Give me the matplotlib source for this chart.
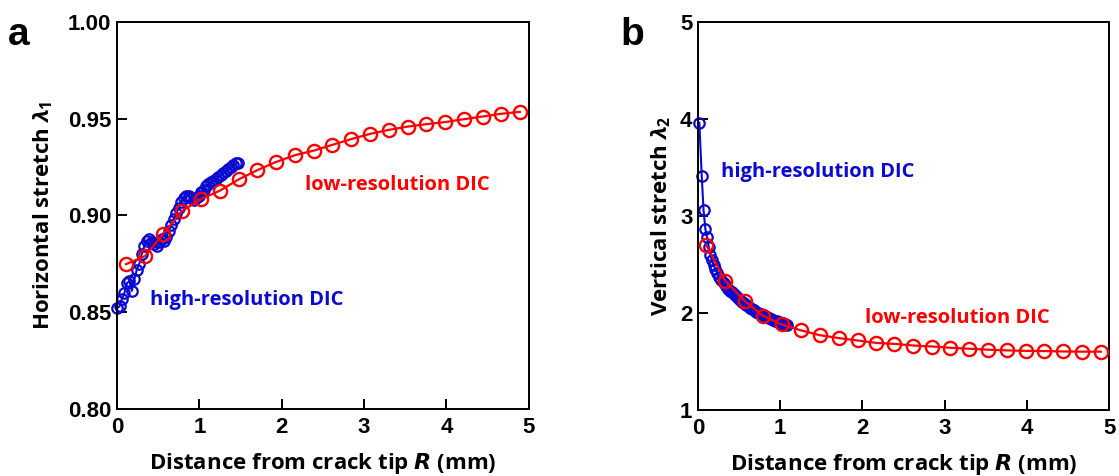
import matplotlib
matplotlib.use("Agg")
import matplotlib.pyplot as plt

# panel a: horizontal stretch
r_low_a = [0.11, 0.34, 0.56, 0.79, 1.02, 1.25, 1.48, 1.70, 1.93, 2.16, 2.39,
           2.61, 2.84, 3.07, 3.30, 3.53, 3.75, 3.98, 4.21, 4.44, 4.66, 4.89]
lam1_low = [0.8748, 0.8790, 0.8904, 0.9023, 0.9084, 0.9128, 0.9187, 0.9233,
            0.9276, 0.9311, 0.9335, 0.9364, 0.9394, 0.9421, 0.9442, 0.9459,
            0.9471, 0.9482, 0.9497, 0.9511, 0.9525, 0.9535]

r_high_a = [0.00, 0.03, 0.06, 0.09, 0.12, 0.15, 0.18, 0.21, 0.24, 0.27,
            0.30, 0.33, 0.36, 0.39, 0.42, 0.45, 0.48, 0.51, 0.54, 0.57,
            0.60, 0.63, 0.66, 0.69, 0.72, 0.75, 0.78, 0.81, 0.84, 0.87,
            0.90, 0.93, 0.96, 0.99, 1.02, 1.05, 1.08, 1.11, 1.14, 1.17,
            1.20, 1.23, 1.26, 1.29, 1.32, 1.35, 1.38, 1.41, 1.44, 1.47]
lam1_high = [0.852, 0.853, 0.857, 0.860, 0.865, 0.866, 0.861, 0.867, 0.872, 0.875,
             0.880, 0.884, 0.887, 0.888, 0.886, 0.885, 0.884, 0.886, 0.888, 0.887,
             0.889, 0.892, 0.895, 0.898, 0.901, 0.904, 0.907, 0.909, 0.910, 0.910,
             0.909, 0.908, 0.909, 0.910, 0.912, 0.913, 0.915, 0.916, 0.917, 0.918,
             0.919, 0.920, 0.921, 0.922, 0.923, 0.924, 0.925, 0.926, 0.927, 0.927]

# panel b: vertical stretch
r_low_b = [0.10, 0.33, 0.57, 0.79, 1.02, 1.25, 1.48, 1.71, 1.94, 2.17, 2.39,
           2.62, 2.85, 3.07, 3.30, 3.53, 3.76, 3.99, 4.21, 4.44, 4.67, 4.90]
lam2_low = [2.70, 2.33, 2.12, 1.97, 1.88, 1.82, 1.77, 1.74, 1.715, 1.69, 1.68,
            1.663, 1.653, 1.64, 1.63, 1.62, 1.613, 1.608, 1.606, 1.602, 1.60, 1.60]

r_high_b = [0.016, 0.045, 0.067, 0.09, 0.11, 0.13, 0.15, 0.17, 0.19, 0.21,
            0.235, 0.26, 0.285, 0.31, 0.335, 0.36, 0.385, 0.41, 0.435, 0.46,
            0.485, 0.51, 0.535, 0.56, 0.585, 0.61, 0.635, 0.66, 0.685, 0.71,
            0.735, 0.76, 0.785, 0.81, 0.835, 0.86, 0.885, 0.91, 0.935, 0.96,
            0.985, 1.01, 1.035, 1.06, 1.08]
lam2_high = [3.96, 3.41, 3.06, 2.86, 2.78, 2.68, 2.60, 2.54, 2.49, 2.45,
             2.41, 2.37, 2.34, 2.31, 2.28, 2.25, 2.23, 2.21, 2.19, 2.17,
             2.15, 2.13, 2.11, 2.10, 2.08, 2.07, 2.05, 2.04, 2.03, 2.01,
             2.00, 1.99, 1.98, 1.97, 1.96, 1.95, 1.94, 1.93, 1.92, 1.915,
             1.905, 1.90, 1.89, 1.885, 1.875]

x_ticks = [0, 1, 2, 3, 4, 5]
y_ticks_a = [0.80, 0.85, 0.90, 0.95, 1.00]
y_ticks_b = [1, 2, 3, 4, 5]

BLUE = "#0a0ad0"
RED = "#ff0000"
LABEL_FONT = "Open Sans"
TICK_FONT = "Liberation Sans"

plt.rcParams["mathtext.fontset"] = "custom"
plt.rcParams["mathtext.it"] = "Open Sans:italic:bold"
plt.rcParams["mathtext.bf"] = "Open Sans:italic:bold"
plt.rcParams["mathtext.rm"] = "Open Sans:bold"


def style_axes(ax, ylab, ylab_x):
    for sp in ax.spines.values():
        sp.set_linewidth(1.4)
    ax.tick_params(direction="in", length=7, width=1.4, top=False, right=False,
                   pad=4, labelsize=16)
    ax.tick_params(axis="x", pad=6)
    for lbl in ax.get_xticklabels() + ax.get_yticklabels():
        lbl.set_fontfamily(TICK_FONT)
        lbl.set_fontweight("bold")
    ax.set_xlabel(r"Distance from crack tip $\boldsymbol{R}$ (mm)", fontsize=16,
                  fontweight="bold", family=LABEL_FONT, labelpad=9)
    ax.set_ylabel(ylab, fontsize=16, fontweight="bold", family=LABEL_FONT)
    ax.yaxis.set_label_coords(ylab_x, 0.5)


def draw_pair(ax, rh, yh, rl, yl):
    ax.plot(rh, yh, "-o", color=BLUE, lw=1.5, ms=7.5, mfc="none",
            mew=1.6, zorder=2, clip_on=False)
    ax.plot(rl, yl, "-o", color=RED, lw=1.6, ms=9.5, mfc="none",
            mew=1.7, zorder=3)


fig = plt.figure(figsize=(11.19, 4.76), dpi=100)
ax1 = fig.add_axes([0.1046, 0.141, 0.368, 0.813])
ax2 = fig.add_axes([0.6238, 0.139, 0.3673, 0.815])

# panel a
draw_pair(ax1, r_high_a, lam1_high, r_low_a, lam1_low)
ax1.set_xlim(0, 5)
ax1.set_ylim(0.80, 1.00)
ax1.set_xticks(x_ticks)
ax1.set_yticks(y_ticks_a)
ax1.set_yticklabels([f"{v:.2f}" for v in y_ticks_a])
style_axes(ax1, r"Horizontal stretch $\lambda_1$", -0.150)
ax1.text(0.40, 0.8563, "high-resolution DIC", color=BLUE, fontsize=14.5,
         fontweight="bold", family=LABEL_FONT, ha="left", va="center")
ax1.text(2.28, 0.9158, "low-resolution DIC", color=RED, fontsize=14.5,
         fontweight="bold", family=LABEL_FONT, ha="left", va="center")

# panel b
draw_pair(ax2, r_high_b, lam2_high, r_low_b, lam2_low)
ax2.set_xlim(0, 5)
ax2.set_ylim(1, 5)
ax2.set_xticks(x_ticks)
ax2.set_yticks(y_ticks_b)
style_axes(ax2, r"Vertical stretch $\lambda_2$", -0.062)
ax2.text(0.28, 3.45, "high-resolution DIC", color=BLUE, fontsize=14.5,
         fontweight="bold", family=LABEL_FONT, ha="left", va="center")
ax2.text(2.03, 1.95, "low-resolution DIC", color=RED, fontsize=14.5,
         fontweight="bold", family=LABEL_FONT, ha="left", va="center")

fig.text(8 / 1119, 1 - 45 / 476, "a", fontsize=28, fontweight="bold",
         family=TICK_FONT, va="baseline")
fig.text(620 / 1119, 1 - 45 / 476, "b", fontsize=28, fontweight="bold",
         family=TICK_FONT, va="baseline")

fig.savefig("out.png", dpi=100)
